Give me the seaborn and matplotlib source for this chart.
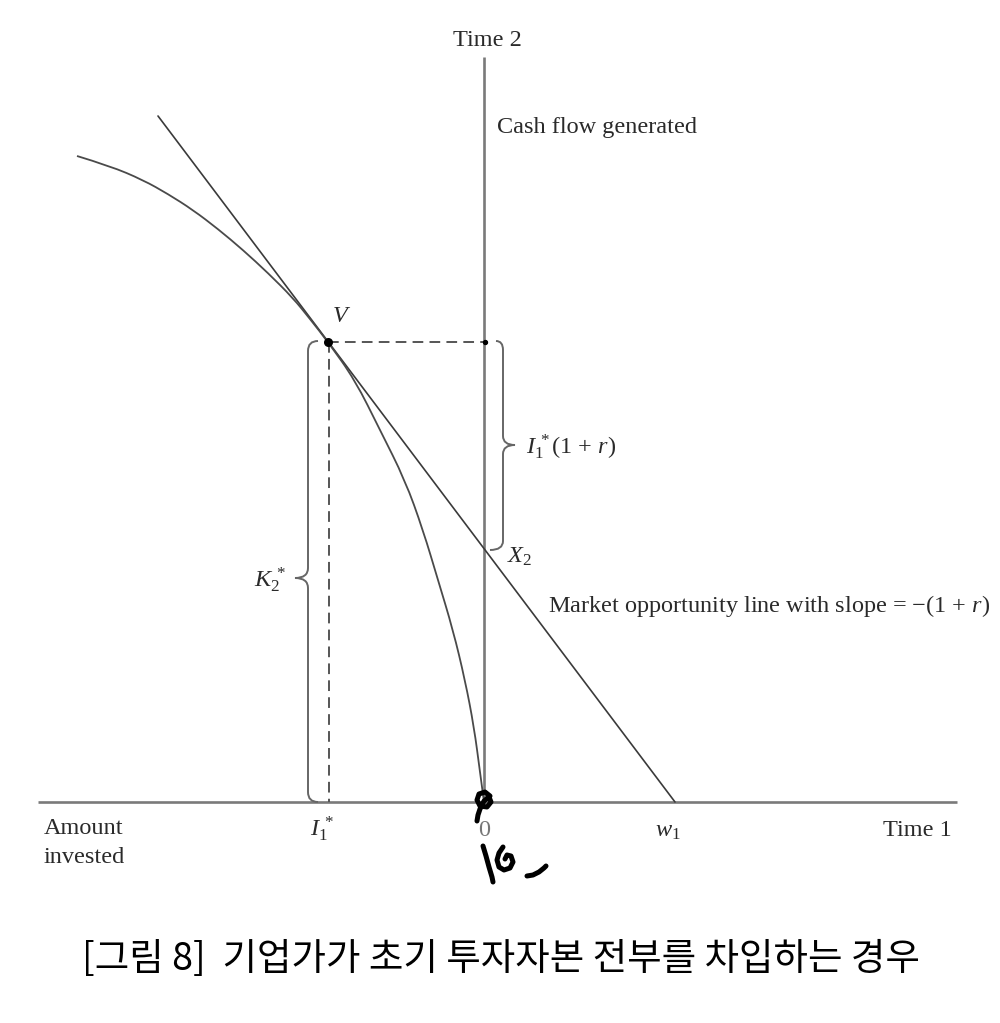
import numpy as np
import pandas as pd
import matplotlib
matplotlib.use("Agg")
import matplotlib.pyplot as plt
from matplotlib.path import Path
from matplotlib.patches import PathPatch
import seaborn as sns

# ---------------- data (1 unit = 100 px of the reference) ----------------
# production opportunity curve
curve_x = [-4.07, -3.74, -3.41, -3.16, -2.91, -2.66, -2.41, -2.16, -1.91, -1.74,
           -1.56, -1.29, -1.04, -0.79, -0.61, -0.46, -0.31, -0.19, -0.10, -0.04, 0.0]
curve_y = [6.46, 6.36, 6.22, 6.08, 5.92, 5.73, 5.52, 5.29, 5.04, 4.83,
           4.60, 4.22, 3.72, 3.22, 2.72, 2.22, 1.72, 1.22, 0.75, 0.30, 0.0]

# market opportunity line (upper end and intercept w1 on time-1 axis)
market_x = [-3.26, 1.91]
market_y = [6.86, 0.0]

# key points
i1_star = -1.56      # amount invested I1*
k2_star = 4.60       # time-2 cash flow K2*
x2_value = 2.55      # X2 on the time-2 axis
w1_value = 1.91

# axes extents
time1_axis = [-4.46, 4.73]
time2_axis = [0.0, 7.45]

# labels
lbl_time2 = "Time 2"
lbl_time1 = "Time 1"
lbl_cash = "Cash flow generated"
lbl_amount = "Amount\ninvested"
lbl_market = "Market opportunity line with slope = \u2212(1 + $r$)"
caption = "[그림 8]  기업가가 초기 투자자본 전부를 차입하는 경우"

# ---------------- style ----------------
sns.set_theme(style="white")
plt.rcParams["font.family"] = ["Liberation Serif", "DejaVu Serif"]
plt.rcParams["mathtext.fontset"] = "custom"
plt.rcParams["mathtext.rm"] = "Liberation Serif"
plt.rcParams["mathtext.it"] = "Liberation Serif:italic"
plt.rcParams["mathtext.bf"] = "Liberation Serif:bold"

fig = plt.figure(figsize=(10, 10.23), dpi=100)
ax = fig.add_axes([0, 0, 1, 1])

axis_col = "#7a7a7a"
line_col = "#3a3a3a"
text_col = "#2a2a2a"

# axes
ax.plot(time1_axis, [0, 0], color=axis_col, lw=1.9, solid_capstyle="butt", zorder=1)
ax.plot([0, 0], time2_axis, color=axis_col, lw=1.9, solid_capstyle="butt", zorder=1)

# market line via seaborn
market_df = pd.DataFrame({"x": market_x, "y": market_y})
sns.lineplot(data=market_df, x="x", y="y", sort=False, estimator=None,
             color=line_col, lw=1.2, ax=ax, zorder=3)

# production opportunity curve: read points drawn as a smooth quadratic path
curve_df = pd.DataFrame({"x": curve_x, "y": curve_y})
pts = curve_df[["x", "y"]].to_numpy()
verts = [tuple(pts[0])]
codes = [Path.MOVETO]
for i in range(1, len(pts) - 2):
    mid = (pts[i] + pts[i + 1]) / 2.0
    verts += [tuple(pts[i]), tuple(mid)]
    codes += [Path.CURVE3, Path.CURVE3]
verts += [tuple(pts[-2]), tuple(pts[-1])]
codes += [Path.CURVE3, Path.CURVE3]
ax.add_patch(PathPatch(Path(verts, codes), fill=False, ec="#4a4a4a", lw=1.3,
                       zorder=3, capstyle="butt"))

ax.set_xlim(-4.84, 5.16)
ax.set_ylim(-2.21, 8.02)
ax.axis("off")

# dashed guides
ax.plot([i1_star, 0], [k2_star, k2_star], color="#555555", lw=1.4,
        dashes=(5.5, 3.2), zorder=2)
ax.plot([i1_star + 0.01, i1_star + 0.01], [k2_star, 0], color="#555555", lw=1.4,
        dashes=(5.5, 3.2), zorder=2)
ax.scatter([i1_star], [k2_star], s=30, color="black", zorder=5)
ax.scatter([0.01], [k2_star], s=8, color="black", zorder=5)


def brace(spine, y_top, y_bot, y_mid, arm_end_top, arm_end_bot, tip, r=0.08):
    verts = [
        (arm_end_top, y_top), (spine, y_top), (spine, y_top - r),
        (spine, y_mid + r),
        (spine, y_mid), (tip, y_mid),
        (spine, y_mid), (spine, y_mid - r),
        (spine, y_bot + r),
        (spine, y_bot), (arm_end_bot, y_bot),
    ]
    codes = [Path.MOVETO, Path.CURVE3, Path.CURVE3,
             Path.LINETO,
             Path.CURVE3, Path.CURVE3,
             Path.CURVE3, Path.CURVE3,
             Path.LINETO,
             Path.CURVE3, Path.CURVE3]
    ax.add_patch(PathPatch(Path(verts, codes), fill=False, ec="#666666",
                           lw=1.4, zorder=2))


# K2* brace (left) and I1*(1+r) brace (right)
brace(-1.76, k2_star + 0.01, 0.0, 2.24, -1.66, -1.66, -1.89, r=0.10)
brace(0.19, k2_star + 0.01, x2_value - 0.03, 3.57, 0.12, 0.06, 0.31, r=0.09)

fs = 17.5
# texts
ax.text(0.03, 7.62, lbl_time2, ha="center", va="center", fontsize=fs, color=text_col)
ax.text(0.13, 6.74, lbl_cash, ha="left", va="center", fontsize=fs, color=text_col)
ax.text(-1.52, 4.86, "$V$", ha="left", va="center", fontsize=fs, color=text_col)
ax.text(0.42, 3.55, r"$I_1^{\,*}$(1 + $r$)", ha="left", va="center", fontsize=fs,
        color=text_col)
ax.text(0.23, 2.45, "$X_2$", ha="left", va="center", fontsize=fs, color=text_col)
ax.text(0.64, 1.96, lbl_market, ha="left", va="center", fontsize=fs, color=text_col)
ax.text(-1.98, 2.22, r"$K_2^{\,*}$", ha="right", va="center", fontsize=fs,
        color=text_col)
ax.text(-4.40, -0.165, lbl_amount, ha="left", va="top", fontsize=fs, color=text_col,
        linespacing=1.45)
ax.text(-1.62, -0.27, r"$I_1^{\,*}$", ha="center", va="center", fontsize=fs,
        color=text_col)
ax.text(0.0, -0.28, "0", ha="center", va="center", fontsize=fs, color="#777777")
ax.text(w1_value - 0.07, -0.29, "$w_1$", ha="center", va="center", fontsize=fs,
        color=text_col)
ax.text(4.68, -0.28, lbl_time1, ha="right", va="center", fontsize=fs, color=text_col)

ax.text(0.17, -1.58, caption, ha="center", va="center", fontsize=27, color="black",
        family=["Noto Sans CJK KR", "DejaVu Sans"])

# handwritten scribble (annotation, drawn in reference pixels)
def px(pts):
    a = np.array(pts, dtype=float)
    return (a[:, 0] - 484) / 100.0, (802 - a[:, 1]) / 100.0

scrib_kw = dict(color="black", lw=3.6, solid_capstyle="round",
                solid_joinstyle="round", zorder=6)
loop = [(490, 796), (485, 792), (479, 794), (477, 800), (480, 806), (487, 807),
        (491, 802), (489, 797), (484, 801), (480, 809), (478, 815), (477, 821)]
stroke1 = [(483, 846), (486, 856), (489, 867), (492, 877), (493, 882)]
stroke2 = [(503, 847), (499, 853), (497, 860), (499, 867), (504, 870),
           (510, 868), (513, 862), (511, 856), (507, 855), (505, 859)]
stroke3 = [(527, 876), (533, 875), (539, 872), (544, 868), (546, 866)]
for s in (loop, stroke1, stroke2, stroke3):
    xs, ys = px(s)
    ax.plot(xs, ys, **scrib_kw)

fig.savefig("out.png", dpi=100)
